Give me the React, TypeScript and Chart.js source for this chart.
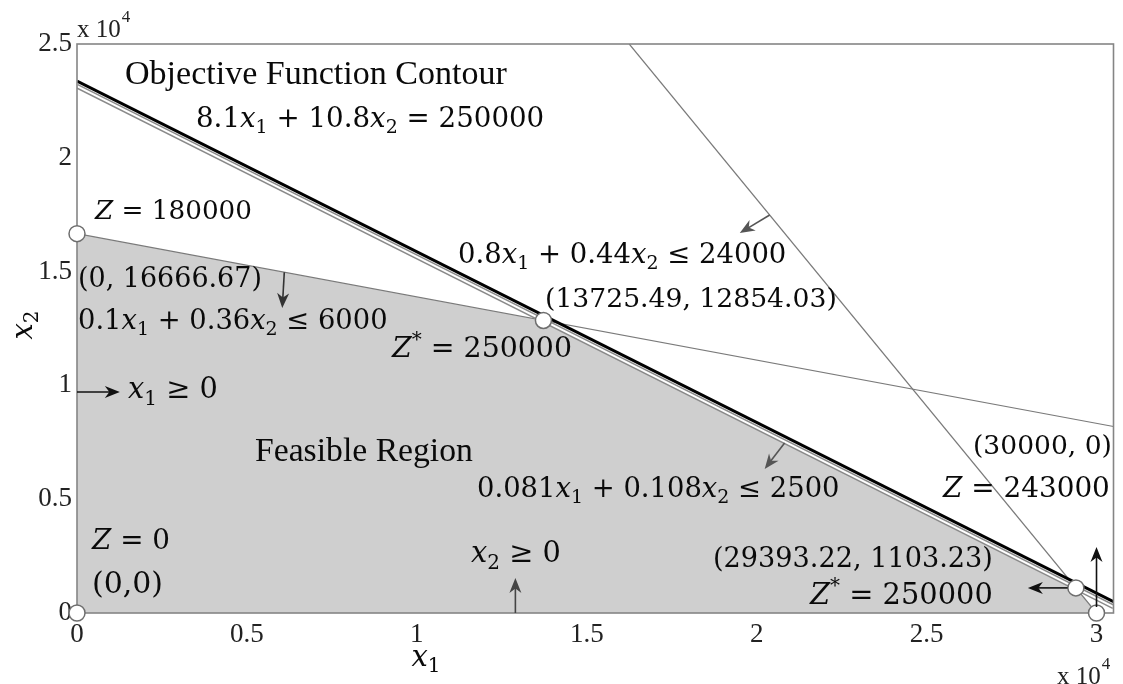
import React, { useEffect, useRef } from "react";
import { Chart, registerables } from "chart.js";

Chart.register(...registerables);

// ---- data (x1, x2 in raw units) ----
const feasibleX = [0, 13725.49, 29393.22, 30000];
const feasibleY = [16666.67, 12854.03, 1103.23, 0];

const c1X = [0, 30500]; // 0.1x1 + 0.36x2 <= 6000
const c1Y = [16666.67, 8194.44];
const c2X = [16250, 30000]; // 0.8x1 + 0.44x2 <= 24000
const c2Y = [25000, 0];
const c3X = [0, 30500]; // 0.081x1 + 0.108x2 <= 2500
const c3Y = [23148.15, 273.15];
const objX = [0, 30500]; // 8.1x1 + 10.8x2 = 250000
const objY = [23148.15, 273.15];

const vertexX = [0, 0, 13725.49, 29393.22, 30000];
const vertexY = [0, 16666.67, 12854.03, 1103.23, 0];

const xTicks = [0, 5000, 10000, 15000, 20000, 25000, 30000];
const yTicks = [0, 5000, 10000, 15000, 20000, 25000];

// arrows in data units
const arrowFromX = [0, 12900, 6100, 20383, 20822, 29150, 30000];
const arrowFromY = [9710, 0, 14972, 17487, 7470, 1103, 264];
const arrowToX = [1260, 12900, 6040, 19503, 20236, 27980, 30000];
const arrowToY = [9710, 1540, 13400, 16697, 6327, 1103, 2900];
const arrowColor = ["#111", "#444", "#333", "#555", "#555", "#111", "#111"];

const MATH = '"DejaVu Serif"';
const TIMES = '"Liberation Serif"';

// labels: text, left px, middle px, target width, font kind
const labelText = [
  "Objective Function Contour",
  "8.1x_1 + 10.8x_2 = 250000",
  "Z = 180000",
  "(0, 16666.67)",
  "0.1x_1 + 0.36x_2 ≤ 6000",
  "x_1 ≥ 0",
  "0.8x_1 + 0.44x_2 ≤ 24000",
  "(13725.49, 12854.03)",
  "Z^* = 250000",
  "Feasible Region",
  "0.081x_1 + 0.108x_2 ≤ 2500",
  "(30000, 0)",
  "Z = 243000",
  "Z = 0",
  "(0,0)",
  "x_2 ≥ 0",
  "(29393.22, 1103.23)",
  "Z^* = 250000",
];
const labelLeft = [125, 196, 95, 78, 78, 128, 458, 545, 392, 255, 477, 973, 943, 92, 92, 471, 713, 810];
const labelMid = [75, 120, 212, 280, 322, 391, 256, 300, 350, 452, 490, 447, 490, 542, 585, 555, 560, 596];
const labelWidth = [382, 349, 157, 184, 310, 90, 329, 292, 180, 218, 363, 139, 167, 78, 71, 90, 280, 183];
const labelTimes = [true, false, false, false, false, false, false, false, false, true, false, false, false, false, false, false, false, false];

type Run = { t: string; f: string; dy: number };

function buildRuns(s: string, size: number, fam: string, mathMode: boolean): Run[] {
  const runs: Run[] = [];
  const norm = `${size}px ${fam}`;
  const ital = `italic ${size}px ${fam}`;
  const small = `${Math.round(size * 0.7)}px ${fam}`;
  for (let i = 0; i < s.length; i++) {
    const c = s[i];
    if (c === "_") {
      runs.push({ t: s[i + 1], f: small, dy: size * 0.3 });
      i++;
      continue;
    }
    if (c === "^") {
      runs.push({ t: s[i + 1], f: small, dy: -size * 0.33 });
      i++;
      continue;
    }
    if (mathMode && (c === "x" || c === "Z")) {
      runs.push({ t: c, f: ital, dy: 0 });
      continue;
    }
    const last = runs[runs.length - 1];
    if (last && last.f === norm && last.dy === 0) last.t += c;
    else runs.push({ t: c, f: norm, dy: 0 });
  }
  return runs;
}

function runsWidth(ctx: CanvasRenderingContext2D, runs: Run[]) {
  let w = 0;
  for (const r of runs) {
    ctx.font = r.f;
    w += ctx.measureText(r.t).width;
  }
  return w;
}

function drawRich(
  ctx: CanvasRenderingContext2D,
  s: string,
  left: number,
  mid: number,
  target: number | null,
  base: number,
  times: boolean,
  align: "left" | "center" = "left"
) {
  const fam = times ? TIMES : MATH;
  let runs = buildRuns(s, base, fam, !times);
  let w = runsWidth(ctx, runs);
  let size = base;
  if (target) {
    size = Math.max(10, Math.min(60, (base * target) / w));
    runs = buildRuns(s, size, fam, !times);
    w = runsWidth(ctx, runs);
  }
  let x = align === "center" ? left - w / 2 : left;
  ctx.textBaseline = "middle";
  ctx.textAlign = "left";
  ctx.fillStyle = "#0a0a0a";
  for (const r of runs) {
    ctx.font = r.f;
    ctx.fillText(r.t, x, mid + r.dy);
    x += ctx.measureText(r.t).width;
  }
}

function drawArrow(ctx: CanvasRenderingContext2D, x1: number, y1: number, x2: number, y2: number, color: string) {
  const ang = Math.atan2(y2 - y1, x2 - x1);
  const L = 15;
  const W = 6;
  ctx.save();
  ctx.strokeStyle = color;
  ctx.fillStyle = color;
  ctx.lineWidth = 1.6;
  ctx.beginPath();
  ctx.moveTo(x1, y1);
  ctx.lineTo(x2 - Math.cos(ang) * L * 0.6, y2 - Math.sin(ang) * L * 0.6);
  ctx.stroke();
  const bx = x2 - Math.cos(ang) * L;
  const by = y2 - Math.sin(ang) * L;
  const px = -Math.sin(ang) * W;
  const py = Math.cos(ang) * W;
  const mx = x2 - Math.cos(ang) * L * 0.7;
  const my = y2 - Math.sin(ang) * L * 0.7;
  ctx.beginPath();
  ctx.moveTo(x2, y2);
  ctx.lineTo(bx + px, by + py);
  ctx.lineTo(mx, my);
  ctx.lineTo(bx - px, by - py);
  ctx.closePath();
  ctx.fill();
  ctx.restore();
}

function drawExp(ctx: CanvasRenderingContext2D, left: number, mid: number) {
  ctx.fillStyle = "#222";
  ctx.textBaseline = "middle";
  ctx.textAlign = "left";
  ctx.font = `25px ${TIMES}`;
  ctx.fillText("x 10", left, mid);
  const w = ctx.measureText("x 10").width;
  ctx.font = `17px ${TIMES}`;
  ctx.fillText("4", left + w + 1, mid - 12);
}

const OBJ_INDEX = 5;
const MARK_INDEX = 6;

const overlay = {
  id: "lpOverlay",
  beforeDatasetDraw(chart: any, args: any) {
    const ctx = chart.ctx as CanvasRenderingContext2D;
    if (args.index === OBJ_INDEX) {
      ctx.save();
      ctx.translate(0, -5);
    }
    if (args.index === MARK_INDEX) {
      const a = chart.chartArea;
      ctx.save();
      ctx.strokeStyle = "#858585";
      ctx.lineWidth = 1.6;
      ctx.strokeRect(a.left, a.top, a.right - a.left, a.bottom - a.top);
      ctx.restore();
    }
  },
  afterDatasetDraw(chart: any, args: any) {
    if (args.index === OBJ_INDEX) chart.ctx.restore();
  },
  afterDraw(chart: any) {
    const ctx = chart.ctx as CanvasRenderingContext2D;
    const xs = chart.scales.x;
    const ys = chart.scales.y;
    for (let i = 0; i < arrowFromX.length; i++) {
      drawArrow(
        ctx,
        xs.getPixelForValue(arrowFromX[i]),
        ys.getPixelForValue(arrowFromY[i]),
        xs.getPixelForValue(arrowToX[i]),
        ys.getPixelForValue(arrowToY[i]),
        arrowColor[i]
      );
    }
    for (let i = 0; i < labelText.length; i++) {
      drawRich(ctx, labelText[i], labelLeft[i], labelMid[i], labelWidth[i], 27, labelTimes[i]);
    }
    // axis titles
    drawRich(ctx, "x_1", 426, 658, null, 29, false, "center");
    ctx.save();
    ctx.translate(24, 325);
    ctx.rotate(-Math.PI / 2);
    drawRich(ctx, "x_2", 0, 0, null, 29, false, "center");
    ctx.restore();
    // exponent labels
    drawExp(ctx, 77, 30);
    drawExp(ctx, 1057, 677);
  },
};

const pts = (xs: number[], ys: number[]) => xs.map((x, i) => ({ x, y: ys[i] }));

export default function App() {
  const ref = useRef<HTMLCanvasElement | null>(null);
  useEffect(() => {
    if (!ref.current) return;
    const tickFmt = (v: any) => (v === 0 ? "0" : String(Number(v) / 10000));
    const chart = new Chart(ref.current, {
      type: "line",
      data: {
        datasets: [
          {
            data: pts(feasibleX, feasibleY),
            fill: "origin",
            backgroundColor: "#cfcfcf",
            borderWidth: 0,
            pointRadius: 0,
            order: 10,
          },
          {
            data: pts(c1X, c1Y),
            borderColor: "#7a7a7a",
            borderWidth: 1.2,
            pointRadius: 0,
            fill: false,
            order: 9,
          },
          {
            data: pts(c2X, c2Y),
            borderColor: "#7a7a7a",
            borderWidth: 1.2,
            pointRadius: 0,
            fill: false,
            order: 8,
          },
          {
            data: pts(c3X, c3Y),
            borderColor: "#8a8a8a",
            borderWidth: 5,
            pointRadius: 0,
            fill: false,
            order: 7,
          },
          {
            data: pts(c3X, c3Y),
            borderColor: "#ffffff",
            borderWidth: 2,
            pointRadius: 0,
            fill: false,
            order: 6,
          },
          {
            data: pts(objX, objY),
            borderColor: "#000000",
            borderWidth: 3,
            pointRadius: 0,
            fill: false,
            order: 5,
          },
          {
            data: pts(vertexX, vertexY),
            showLine: false,
            pointRadius: 8,
            pointBackgroundColor: "#ffffff",
            pointBorderColor: "#6e6e6e",
            pointBorderWidth: 1.5,
            clip: false as any,
            order: 1,
          },
        ],
      },
      options: {
        animation: false,
        responsive: true,
        maintainAspectRatio: false,
        layout: { padding: { top: 44, right: 6, left: 0, bottom: 0 } },
        plugins: { legend: { display: false }, tooltip: { enabled: false } },
        elements: { line: { tension: 0 } },
        scales: {
          x: {
            type: "linear",
            min: 0,
            max: 30500,
            afterFit: (s: any) => {
              s.height = 71;
            },
            afterBuildTicks: (s: any) => {
              s.ticks = xTicks.map((v) => ({ value: v }));
            },
            grid: { display: false, drawTicks: false },
            border: { display: false },
            ticks: {
              callback: tickFmt,
              font: { family: "Liberation Serif", size: 27 },
              color: "#222",
              padding: 6,
              maxRotation: 0,
              autoSkip: false,
            },
          },
          y: {
            type: "linear",
            min: 0,
            max: 25000,
            afterFit: (s: any) => {
              s.width = 77;
            },
            afterBuildTicks: (s: any) => {
              s.ticks = yTicks.map((v) => ({ value: v }));
            },
            grid: { display: false, drawTicks: false },
            border: { display: false },
            ticks: {
              callback: tickFmt,
              font: { family: "Liberation Serif", size: 27 },
              color: "#222",
              padding: 5,
              autoSkip: false,
            },
          },
        },
      },
      plugins: [overlay],
    });
    return () => chart.destroy();
  }, []);
  return (
    <div style={{ position: "absolute", left: 0, top: 0, width: 1123, height: 684, background: "#fff" }}>
      <canvas ref={ref} />
    </div>
  );
}
